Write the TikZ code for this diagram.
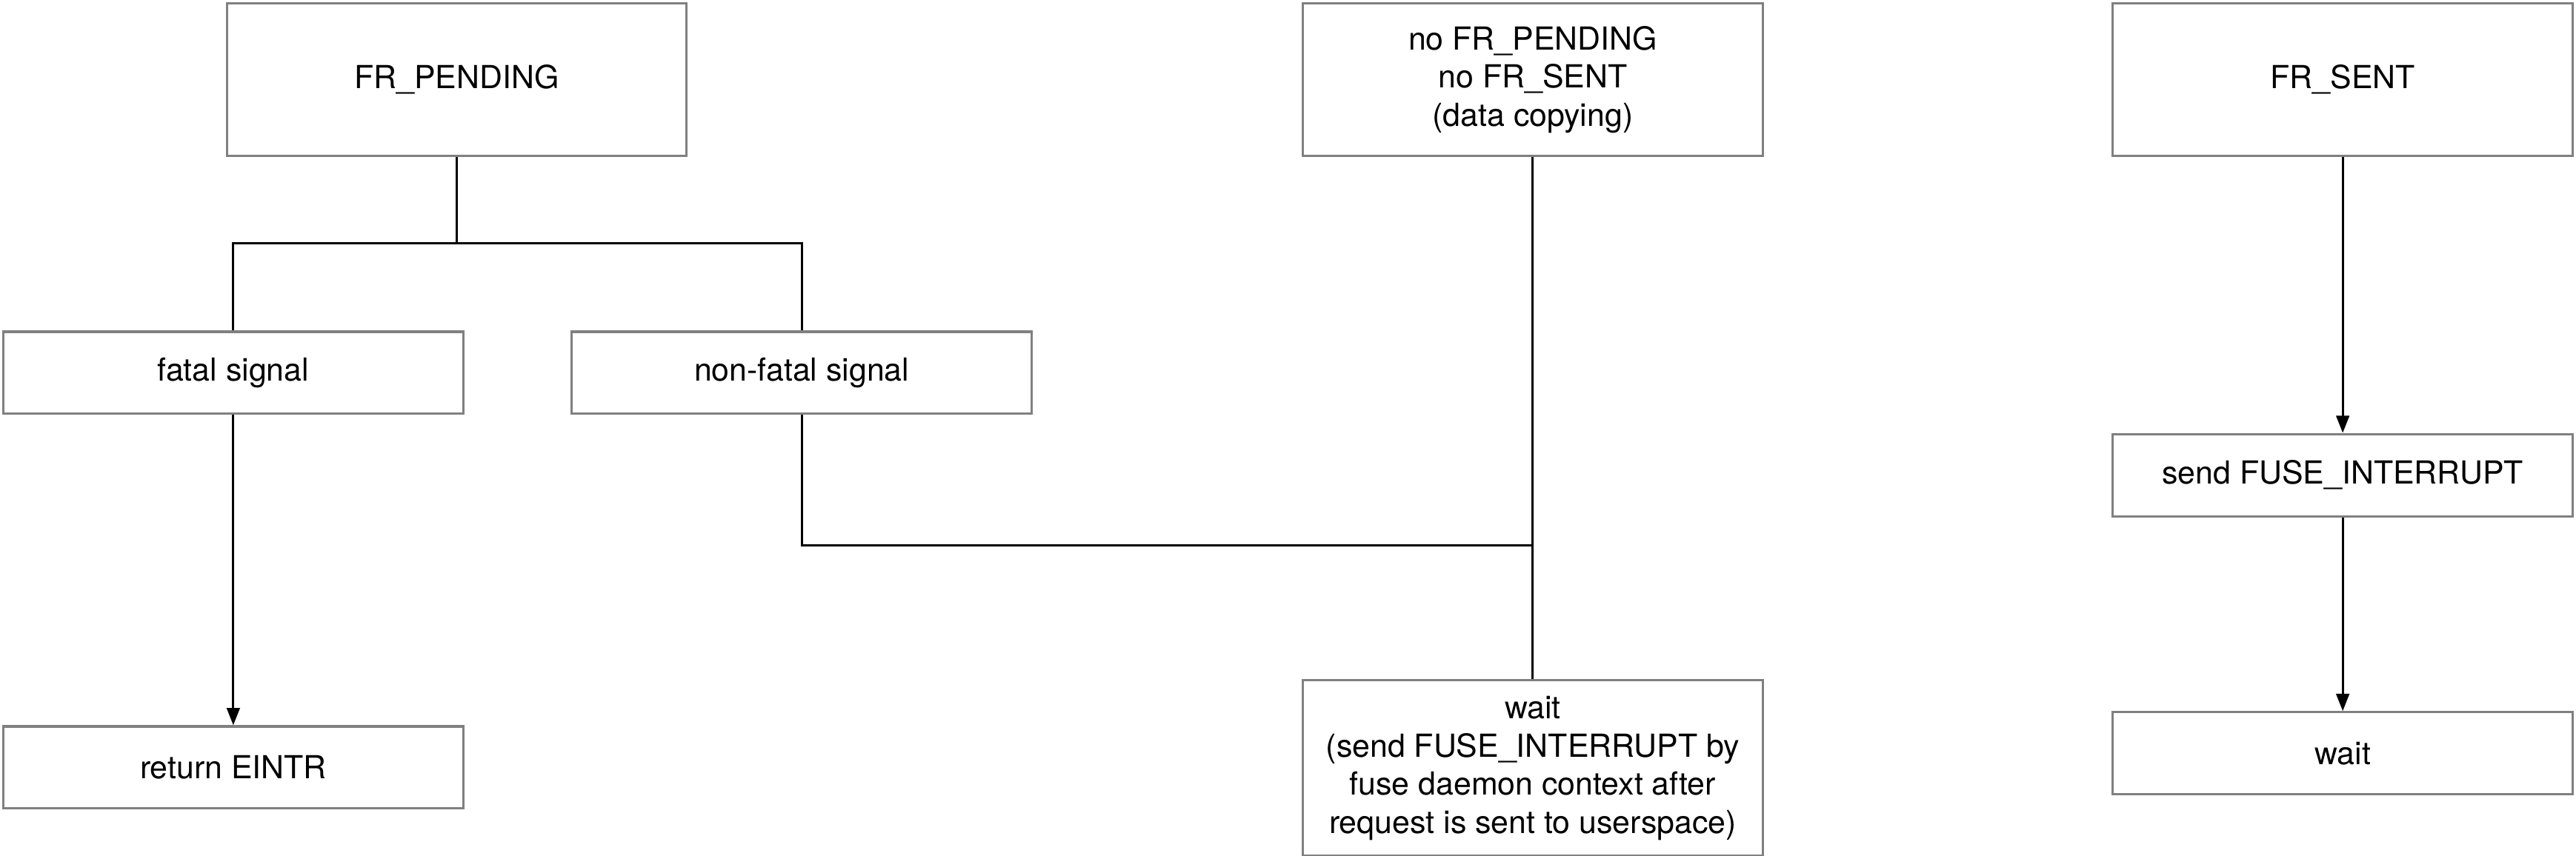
\documentclass[tikz,border=0pt]{standalone}
\usepackage{fontspec}
\setmainfont{TeX Gyre Heros}
\usetikzlibrary{positioning,arrows.meta}

\begin{document}
\begin{tikzpicture}[
    x = 0.02cm, y = -0.02cm,
    > = {Triangle[length=6pt, width=4.5pt]},
    node distance = 2cm,
    line width = 0.8pt,
    state/.style={rectangle, draw=black!50, minimum width=5.6cm, minimum height=1cm,
        align=center, inner sep=2pt, font=\fontsize{11}{13.2}\selectfont},
    tall/.style={state, minimum height=1.86cm}
]
    \useasboundingbox (0,0) rectangle (1568,521);

    % top row
    \node[tall] (pend) at (278,48.5) {FR\_PENDING};
    \node[tall] (nopend) at (933,48.5) {no FR\_PENDING\\no FR\_SENT\\(data copying)};
    \node[tall] (sent) at (1426,48.5) {FR\_SENT};

    % left branch
    \node[state] (fatal) at (142,227) {fatal signal};
    \node[state] (nonfatal) at (488,227) {non-fatal signal};
    \node[state, below=3.78cm of fatal] (eintr) {return EINTR};

    % middle
    \node[state, minimum height=2.14cm, below=6.36cm of nopend] (waitmid)
        {wait\\(send FUSE\_INTERRUPT by\\fuse daemon context after\\request is sent to userspace)};

    % right column
    \node[state, below=3.36cm of sent] (sendint) {send FUSE\_INTERRUPT};
    \node[state, below=2.36cm of sendint] (waitr) {wait};

    \coordinate (br) at (278,148);
    \coordinate (join) at (933,332);

    \draw (pend) -- (br);
    \draw (fatal.north) |- (br) -| (nonfatal.north);
    \draw (nonfatal.south) |- (join);
    \draw (nopend) -- (waitmid);
    \path[->]
        (fatal) edge (eintr)
        (sent) edge (sendint)
        (sendint) edge (waitr);
\end{tikzpicture}
\end{document}
